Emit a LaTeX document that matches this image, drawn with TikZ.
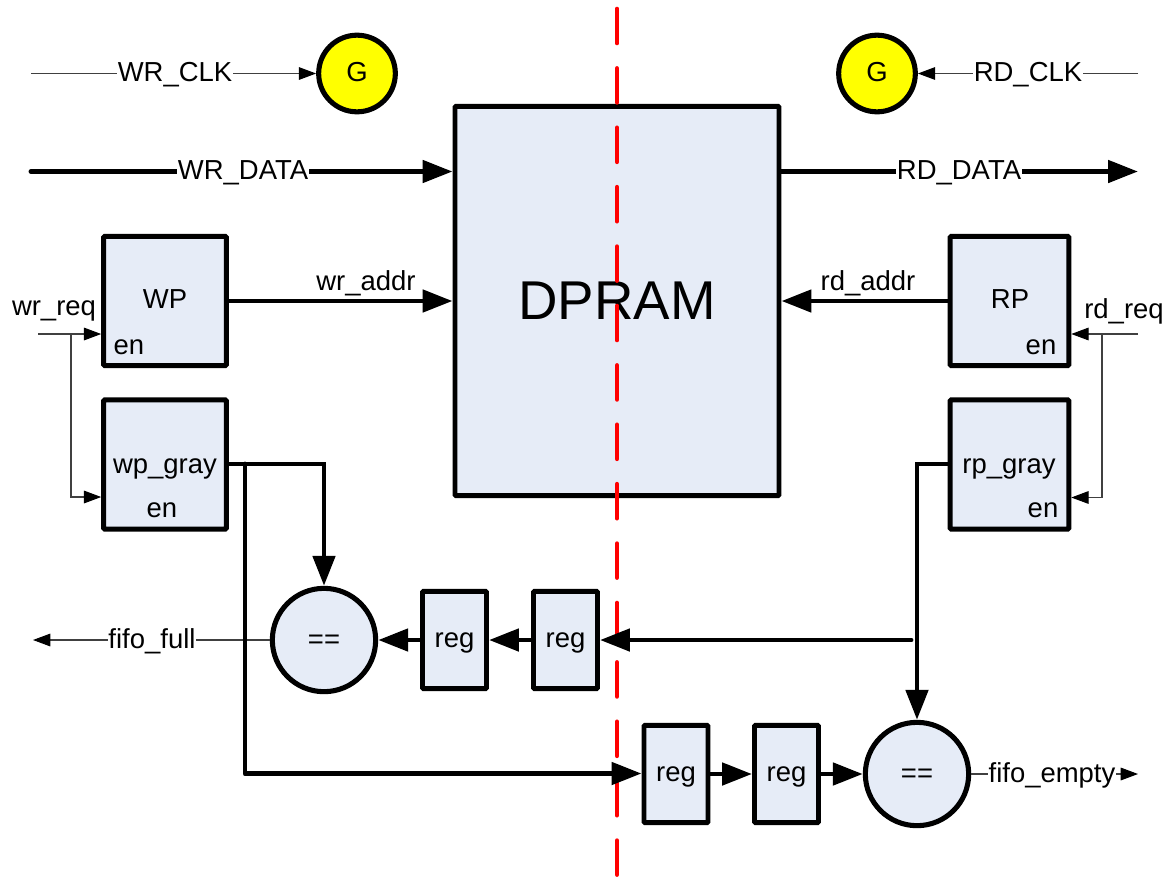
\documentclass[tikz,border=0pt]{standalone}
\usepackage{fontspec}
\setmainfont{Liberation Sans}
\usetikzlibrary{arrows.meta,calc}
\definecolor{boxfill}{RGB}{230,236,247}
\definecolor{gateyellow}{RGB}{255,255,0}
\definecolor{cutred}{RGB}{255,0,0}
\tikzset{
  x=0.75pt,y=-0.75pt,
  blockbox/.style={draw=black,fill=boxfill,line width=3.7pt,rounded corners=0.8pt,inner sep=0pt,font=\fontsize{20.6}{24}\selectfont,text=black},
  regbox/.style={blockbox,minimum width=48pt,minimum height=73pt,text height=10.5pt,text depth=0pt},
  compare/.style={circle,draw=black,fill=boxfill,line width=3.8pt,minimum size=77.5pt,inner sep=0pt,text height=12pt,text depth=0pt,font=\fontsize{20.6}{24}\selectfont},
  gen/.style={circle,draw=black,fill=gateyellow,line width=3.8pt,minimum size=57.5pt,inner sep=0pt,text height=12.3pt,text depth=0pt,font=\fontsize{20.6}{24}\selectfont},
  lbl/.style={inner sep=0pt,anchor=base,font=\fontsize{20.6}{24}\selectfont,text=black},
  lblw/.style={lbl,fill=white,inner xsep=0.6pt,inner ysep=1pt},
  thick wire/.style={line width=3.7pt,draw=black,-{Triangle[length=22.5pt,width=16.5pt]}},
  thin wire/.style={line width=0.8pt,draw=black!75,-{Triangle[length=13pt,width=9.5pt,color=black]}},
}
\begin{document}
\begin{tikzpicture}
\useasboundingbox (0,0) rectangle (1173,879);
% blocks
\node[blockbox,minimum width=243pt,minimum height=292pt,text height=27.4pt,text depth=0pt,font=\fontsize{41}{48}\selectfont] (ram) at (617,301) {DPRAM};
\node[blockbox,minimum width=92pt,minimum height=97pt] (wp) at (165,301) {};
\node[blockbox,minimum width=92pt,minimum height=97pt] (wg) at (165,464.5) {};
\node[blockbox,minimum width=89pt,minimum height=97pt] (rp) at (1009.5,301) {};
\node[blockbox,minimum width=89pt,minimum height=97pt] (rg) at (1009.5,464.5) {};
\node[lbl] (wpt) at (165,308) {WP};
\node[lbl] (wpe) at (129,354) {en};
\node[lbl] (wgt) at (165,473) {wp\_gray};
\node[lbl] (wge) at (162,517.5) {en};
\node[lbl] (rpt) at (1010,308) {RP};
\node[lbl] (rpe) at (1041,354) {en};
\node[lbl] (rgt) at (1009,473) {rp\_gray};
\node[lbl] (rge) at (1043,517.5) {en};
\node[gen] (gw) at (357,73.5) {G};
\node[gen] (gr) at (877,73.5) {G};
\node[compare] (cf) at (324,640) {==};
\node[compare] (ce) at (917,774) {==};
\node[regbox] (r1) at (454.5,640) {reg};
\node[regbox] (r2) at (565.5,640) {reg};
\node[regbox] (r3) at (676,774) {reg};
\node[regbox] (r4) at (786.5,774) {reg};
% clock-domain boundary
\coordinate (cuttop) at (617,9);
\coordinate (cutbot) at (617,877);
\draw[cutred,line width=3.5pt,line cap=round,dash pattern=on 25.5pt off 19.05pt] (cuttop) -- (cutbot);
% free ends
\coordinate (wck) at (31,73.5);
\coordinate (rck) at (1138,73.5);
\coordinate (wdt) at (31,171.5);
\coordinate (rdt) at (1138,171.5);
\coordinate (wrq) at (38,334);
\coordinate (rrq) at (1138,334);
\coordinate (wrb) at (71,334);
\coordinate (rrb) at (1102,334);
\coordinate (wrc) at (71,497);
\coordinate (rrc) at (1102,497.5);
\coordinate (wgj) at (245,464);
\coordinate (wgl) at (245,773.5);
\coordinate (rgj) at (911,640);
\coordinate (ffo) at (33,640);
\coordinate (feo) at (1138,774);
% thin wires
\draw[thin wire] (wck) -- (gw.west |- wck);
\draw[thin wire] (rck) -- (gr.east |- rck);
\draw[thin wire] (wrq) -- (wrq -| wp.west);
\draw[thin wire] (rrq) -- (rrq -| rp.east);
\draw[thin wire] (wrb) -- (wrc) -- (wrc -| wg.west);
\draw[thin wire] (rrb) -- (rrc) -- (rrc -| rg.east);
\draw[thin wire] (cf.west) -- (ffo);
\draw[thin wire] (ce.east) -- (feo);
% thick wires
\draw[thick wire,line cap=round] (wdt) -- (wdt -| ram.west);
\draw[thick wire] (rdt -| ram.east) -- (rdt);
\draw[thick wire] (wp.east) -- (ram.west |- wp.east);
\draw[thick wire] (rp.west) -- (ram.east |- rp.west);
\draw[thick wire] (wg.east |- wgj) -| (cf.north);
\draw[thick wire,line cap=round,line join=round] (wgj) -- (wgl) -- (r3.west |- wgl);
\draw[thick wire] (rg.west |- wgj) -| (ce.north);
\draw[thick wire,line cap=round] (rgj) -- (r2.east |- rgj);
\draw[thick wire] (r2.west) -- (r1.east);
\draw[thick wire] (r1.west) -- (cf.east);
\draw[thick wire] (r3.east) -- (r4.west);
\draw[thick wire] (r4.east) -- (ce.west);
% wire labels
\node[lblw] (lwck) at (175,81.5) {WR\_CLK};
\node[lblw] (lrck) at (1028,81.5) {RD\_CLK};
\node[lblw] (lwdt) at (243,179.5) {WR\_DATA};
\node[lblw] (lrdt) at (959,179.5) {RD\_DATA};
\node[lbl] (lwad) at (366,290) {wr\_addr};
\node[lbl] (lrad) at (868,290) {rd\_addr};
\node[lbl] (lwrq) at (54,315) {wr\_req};
\node[lbl] (lrrq) at (1124,318.5) {rd\_req};
\node[lblw] (lff) at (152,648) {fifo\_full};
\node[lblw] (lfe) at (1052,782) {fifo\_empty};
\end{tikzpicture}
\end{document}
